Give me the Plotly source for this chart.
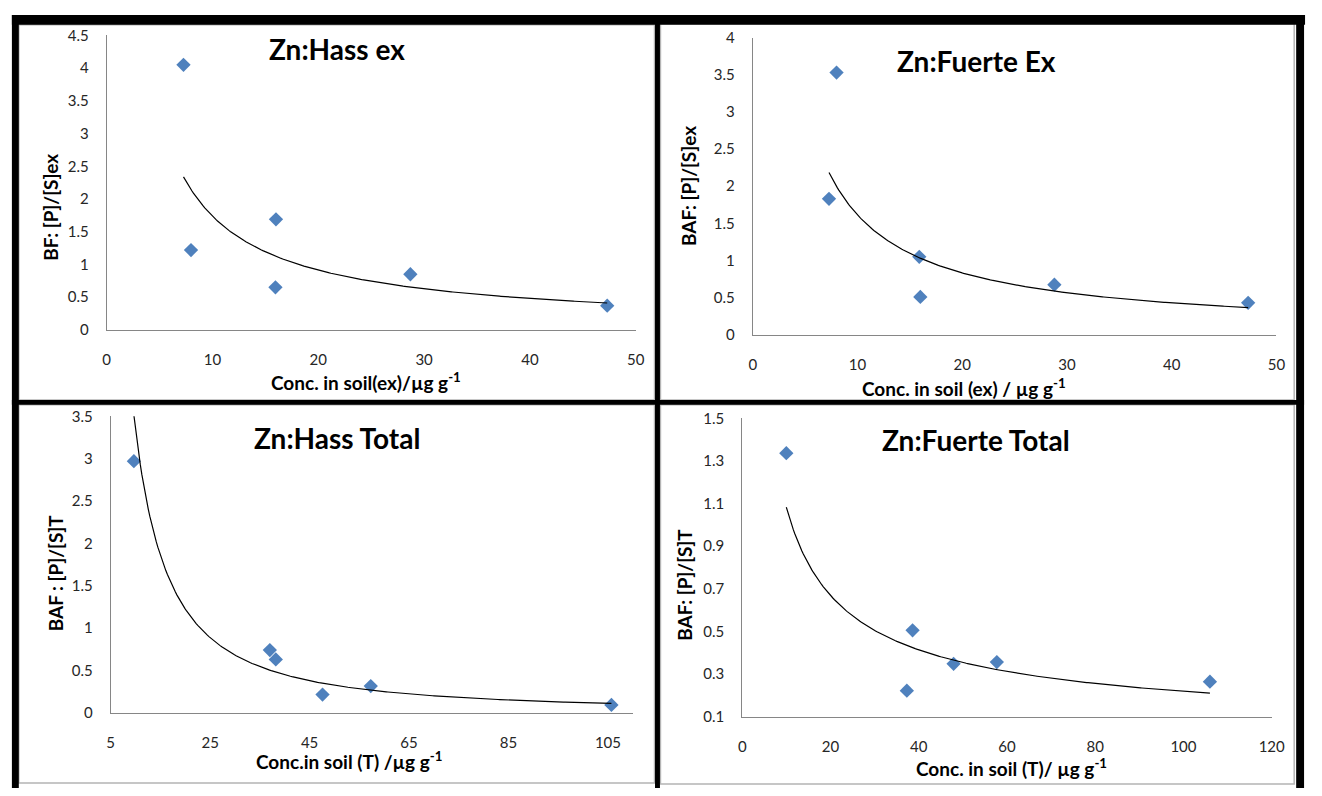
import numpy as np
import plotly.graph_objects as go

W, H = 1322, 796

# ---------------- data ----------------
hass_ex_x = [7.26, 7.97, 16.0, 15.95, 28.7, 47.3]
hass_ex_y = [4.05, 1.22, 1.69, 0.65, 0.85, 0.37]

fuerte_ex_x = [7.28, 8.0, 15.9, 16.0, 28.8, 47.3]
fuerte_ex_y = [1.83, 3.53, 1.05, 0.51, 0.675, 0.43]

hass_tot_x = [9.66, 37.0, 38.2, 47.6, 57.3, 105.7]
hass_tot_y = [2.97, 0.74, 0.63, 0.215, 0.315, 0.092]

fuerte_tot_x = [9.98, 38.6, 37.3, 47.9, 57.7, 106.0]
fuerte_tot_y = [1.336, 0.505, 0.222, 0.348, 0.356, 0.264]

titles = ["Zn:Hass ex", "Zn:Fuerte Ex", "Zn:Hass Total", "Zn:Fuerte Total"]
x_titles = ["Conc. in soil(ex)/µg g<sup>-1</sup>",
            "Conc. in soil (ex) / µg g<sup>-1</sup>",
            "Conc.in soil (T) /µg g<sup>-1</sup>",
            "Conc. in soil (T)/ µg g<sup>-1</sup>"]
y_titles = ["BF: [P]/[S]ex", "BAF: [P]/[S]ex", "BAF : [P]/[S]T", "BAF: [P]/[S]T"]

# ---------------- layout helpers ----------------
def px(x):
    return x / W

def py(y):
    return 1 - y / H

FONT = "Lato, 'Liberation Sans', Arial, sans-serif"
MARK = "#4F81BD"
AXC = "#868686"
TXT = "#262626"

panels = [
    dict(x=hass_ex_x, y=hass_ex_y, xr=[0, 50], xt0=0, xdt=10, yr=[0, 4.5], yt0=0, ydt=0.5,
         xd=[px(104), px(640)], yd=[py(327.3), py(26)],
         title_pos=(337, 40), xt_pos=(367, 380), yt_pos=(47, 202)),
    dict(x=fuerte_ex_x, y=fuerte_ex_y, xr=[0, 50], xt0=0, xdt=10, yr=[0, 4], yt0=0, ydt=0.5,
         xd=[px(758.5), px(1289)], yd=[py(332.3), py(28.3)],
         title_pos=(985, 52), xt_pos=(972, 386), yt_pos=(694, 180)),
    dict(x=hass_tot_x, y=hass_tot_y, xr=[5, 110], xt0=5, xdt=20, yr=[0, 3.5], yt0=0, ydt=0.5,
         xd=[px(108.1), px(637)], yd=[py(719), py(415.7)],
         title_pos=(337, 438), xt_pos=(349, 768), yt_pos=(53, 576)),
    dict(x=fuerte_tot_x, y=fuerte_tot_y, xr=[0, 120], xt0=0, xdt=20, yr=[0.1, 1.5], yt0=0.1, ydt=0.2,
         xd=[px(747.9), px(1284.2)], yd=[py(723), py(417.7)],
         title_pos=(985, 440), xt_pos=(1021, 775), yt_pos=(690, 588)),
]

fig = go.Figure()
annotations = []
layout_axes = {}

for i, p in enumerate(panels):
    n = i + 1
    xa = "x" if n == 1 else f"x{n}"
    ya = "y" if n == 1 else f"y{n}"
    # scatter points
    fig.add_trace(go.Scatter(
        x=p["x"], y=p["y"], mode="markers", xaxis=xa, yaxis=ya,
        marker=dict(symbol="diamond", size=11, color=MARK, line=dict(width=0)),
        showlegend=False, cliponaxis=False))
    # power trendline (least squares on log-log, as Excel "Power" trendline)
    lx = np.log(np.array(p["x"]))
    ly = np.log(np.array(p["y"]))
    b, lna = np.polyfit(lx, ly, 1)
    xs = np.linspace(min(p["x"]), max(p["x"]), 300)
    ys = np.exp(lna) * xs ** b
    fig.add_trace(go.Scatter(
        x=xs, y=ys, mode="lines", xaxis=xa, yaxis=ya,
        line=dict(color="black", width=1.2), showlegend=False, hoverinfo="skip"))

    xkey = "xaxis" if n == 1 else f"xaxis{n}"
    ykey = "yaxis" if n == 1 else f"yaxis{n}"
    layout_axes[xkey] = dict(
        domain=p["xd"], range=p["xr"], anchor=ya, tick0=p["xt0"], dtick=p["xdt"],
        showline=True, linecolor=AXC, linewidth=1, showgrid=False, zeroline=False,
        ticks="", ticklabelstandoff=16, tickfont=dict(family=FONT, size=15, color=TXT),
        fixedrange=True)
    layout_axes[ykey] = dict(
        domain=p["yd"], range=p["yr"], anchor=xa, tick0=p["yt0"], dtick=p["ydt"],
        showline=True, linecolor=AXC, linewidth=1, showgrid=False, zeroline=False,
        ticks="", ticklabelstandoff=14, tickfont=dict(family=FONT, size=15, color=TXT),
        fixedrange=True)

    tx, ty = p["title_pos"]
    annotations.append(dict(text=titles[i], x=px(tx), y=py(ty), xref="paper", yref="paper",
                            showarrow=False, xanchor="center", yanchor="middle",
                            font=dict(family=FONT, size=28, color="black", weight="bold")))
    ax_, ay_ = p["xt_pos"]
    annotations.append(dict(text=x_titles[i], x=px(ax_), y=py(ay_), xref="paper", yref="paper",
                            showarrow=False, xanchor="center", yanchor="middle",
                            font=dict(family=FONT, size=19, color="black", weight="bold")))
    bx, by = p["yt_pos"]
    annotations.append(dict(text=y_titles[i], x=px(bx), y=py(by), xref="paper", yref="paper",
                            showarrow=False, xanchor="center", yanchor="middle", textangle=-90,
                            font=dict(family=FONT, size=19, color="black", weight="bold")))

shapes = []
# thin grey chart-area borders
for (x0, y0, x1, y1) in [(15, 15, 659, 399), (665, 14, 1307, 399),
                         (15, 404, 659, 791), (665, 404, 1307, 792)]:
    shapes.append(dict(type="rect", xref="paper", yref="paper",
                       x0=px(x0), x1=px(x1), y0=py(y1), y1=py(y0),
                       line=dict(color="#b4b4b4", width=1.5), fillcolor="rgba(0,0,0,0)", layer="below"))
# thick black frame
for (x0, y0, x1, y1) in [(8, 5, 1318, 15), (8, 5, 15, 796), (1309, 5, 1317, 796),
                         (659.5, 5, 664.5, 796), (8, 399, 1317, 404)]:
    shapes.append(dict(type="rect", xref="paper", yref="paper",
                       x0=px(x0), x1=px(x1), y0=py(y1), y1=py(y0),
                       line=dict(width=0), fillcolor="black", layer="above"))

fig.update_layout(
    width=W, height=H, margin=dict(l=0, r=0, t=0, b=0),
    paper_bgcolor="white", plot_bgcolor="white", showlegend=False,
    annotations=annotations, shapes=shapes, **layout_axes)

fig.write_html("out.html")
